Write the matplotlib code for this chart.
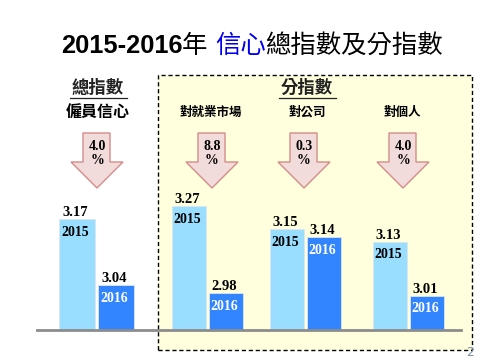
import matplotlib
matplotlib.use("Agg")
import matplotlib.pyplot as plt
from matplotlib.patches import Rectangle, Polygon
from matplotlib.lines import Line2D

# data
groups = ["僱員信心", "對就業市場", "對公司", "對個人"]
years = ["2015", "2016"]
score_2015 = [3.17, 3.27, 3.15, 3.13]
score_2016 = [3.04, 2.98, 3.14, 3.01]
drop_pct = ["4.0", "8.8", "0.3", "4.0"]
# each small chart had its own value axis in the original slide
y_bottom = [2.951, 2.857, 3.024, 2.934]
y_top = [3.227, 3.324, 3.199, 3.245]

W, H = 480, 360
fig = plt.figure(figsize=(4.8, 3.6), dpi=100)
fig.patch.set_facecolor("white")

cjk = ["Noto Sans CJK TC", "DejaVu Sans"]
serif = ["Liberation Serif", "DejaVu Serif"]
light = "#99ddff"
dark = "#3385ff"


def fx(px):
    return px / W


def fy(py):
    return 1 - py / H


# dashed box behind the sub indices
fig.add_artist(Rectangle((fx(158), fy(350)), fx(472) - fx(158), fy(75) - fy(350),
                         transform=fig.transFigure, facecolor="#ffffdd",
                         edgecolor="black", linestyle=(0, (3, 2)), lw=1, zorder=-5))

# title, in pieces for the coloured words
ren = fig.canvas.get_renderer()
pieces = [("2015-2016", "black", "bold"), ("年 ", "black", "normal"),
          ("信心", "#0000ee", "normal"), ("總指數及分指數", "black", "normal")]
texts = []
for s, c, w in pieces:
    t = fig.text(0, fy(46), s, color=c, fontweight=w, fontsize=18.3,
                 family=["Liberation Sans", "Noto Sans CJK TC"], va="center")
    texts.append(t)
widths = [t.get_window_extent(ren).width for t in texts]
x0 = 252 - sum(widths) / 2
for t, wd in zip(texts, widths):
    t.set_x(fx(x0))
    x0 += wd

# headers
fig.text(fx(98), fy(88), "總指數", family=cjk, fontweight="bold", fontsize=12.5,
         ha="center", va="center", color="#222222")
fig.add_artist(Line2D([fx(70), fx(127)], [fy(98), fy(98)], color="#222222", lw=0.9))
fig.text(fx(307), fy(88), "分指數", family=cjk, fontweight="bold", fontsize=12.5,
         ha="center", va="center", color="#222222")
fig.add_artist(Line2D([fx(279), fx(336)], [fy(98), fy(98)], color="#222222", lw=0.9))

centers = [98, 211, 307, 402]
arrow_x = [97, 212, 304, 403]
bar_c1 = [77, 189, 287, 390]
spacing = [39, 37, 37, 37]
label_size = [11.5, 9, 9, 9]

for i in range(4):
    fig.text(fx(centers[i]), fy(112), groups[i], family=cjk, fontweight="bold",
             fontsize=label_size[i], ha="center", va="center")

    # down arrow with the percentage drop
    ax_c = arrow_x[i]
    pts = [(ax_c - 14, 133), (ax_c + 13, 133), (ax_c + 13, 162), (ax_c + 26, 162),
           (ax_c, 188), (ax_c - 26, 162), (ax_c - 14, 162)]
    fig.add_artist(Polygon([(fx(a), fy(b)) for a, b in pts], closed=True,
                           transform=fig.transFigure, facecolor="#f2dcdb",
                           edgecolor="#d58b89", lw=1))
    fig.text(fx(ax_c), fy(147), drop_pct[i], family=serif, fontweight="bold",
             fontsize=10, ha="center", va="center")
    fig.text(fx(ax_c), fy(161), "%", family=serif, fontweight="bold",
             fontsize=10, ha="center", va="center")

    # the bars
    sp = spacing[i]
    left = bar_c1[i] - 0.75 * sp
    ax = fig.add_axes([fx(left), fy(330), 2.5 * sp / W, (330 - 190) / H])
    ax.patch.set_alpha(0)
    ax.set_xlim(-0.75, 1.75)
    ax.set_ylim(y_bottom[i], y_top[i])
    ax.axis("off")
    vals = [score_2015[i], score_2016[i]]
    ax.bar([0, 1], vals, width=0.92, color=[light, dark],
           edgecolor="#d9e6ee", lw=0.6)
    for k, v in enumerate(vals):
        ax.annotate(f"{v:.2f}", (k, v), xytext=(-1, 0), textcoords="offset points",
                    ha="center", va="bottom", family=serif, fontweight="bold",
                    fontsize=10.5)
        ax.annotate(years[k], (k, v), xytext=(-1, -9.5), textcoords="offset points",
                    ha="center", va="center", family=serif, fontweight="bold",
                    fontsize=10, color="black" if k == 0 else "white")

# base line
fig.add_artist(Line2D([fx(37), fx(461)], [fy(330), fy(330)], color="#8c8c8c", lw=2))

fig.text(fx(470), fy(352), "2", color="#7f8fa9", fontsize=9, ha="center", va="center")

fig.savefig("out.png", dpi=100)
